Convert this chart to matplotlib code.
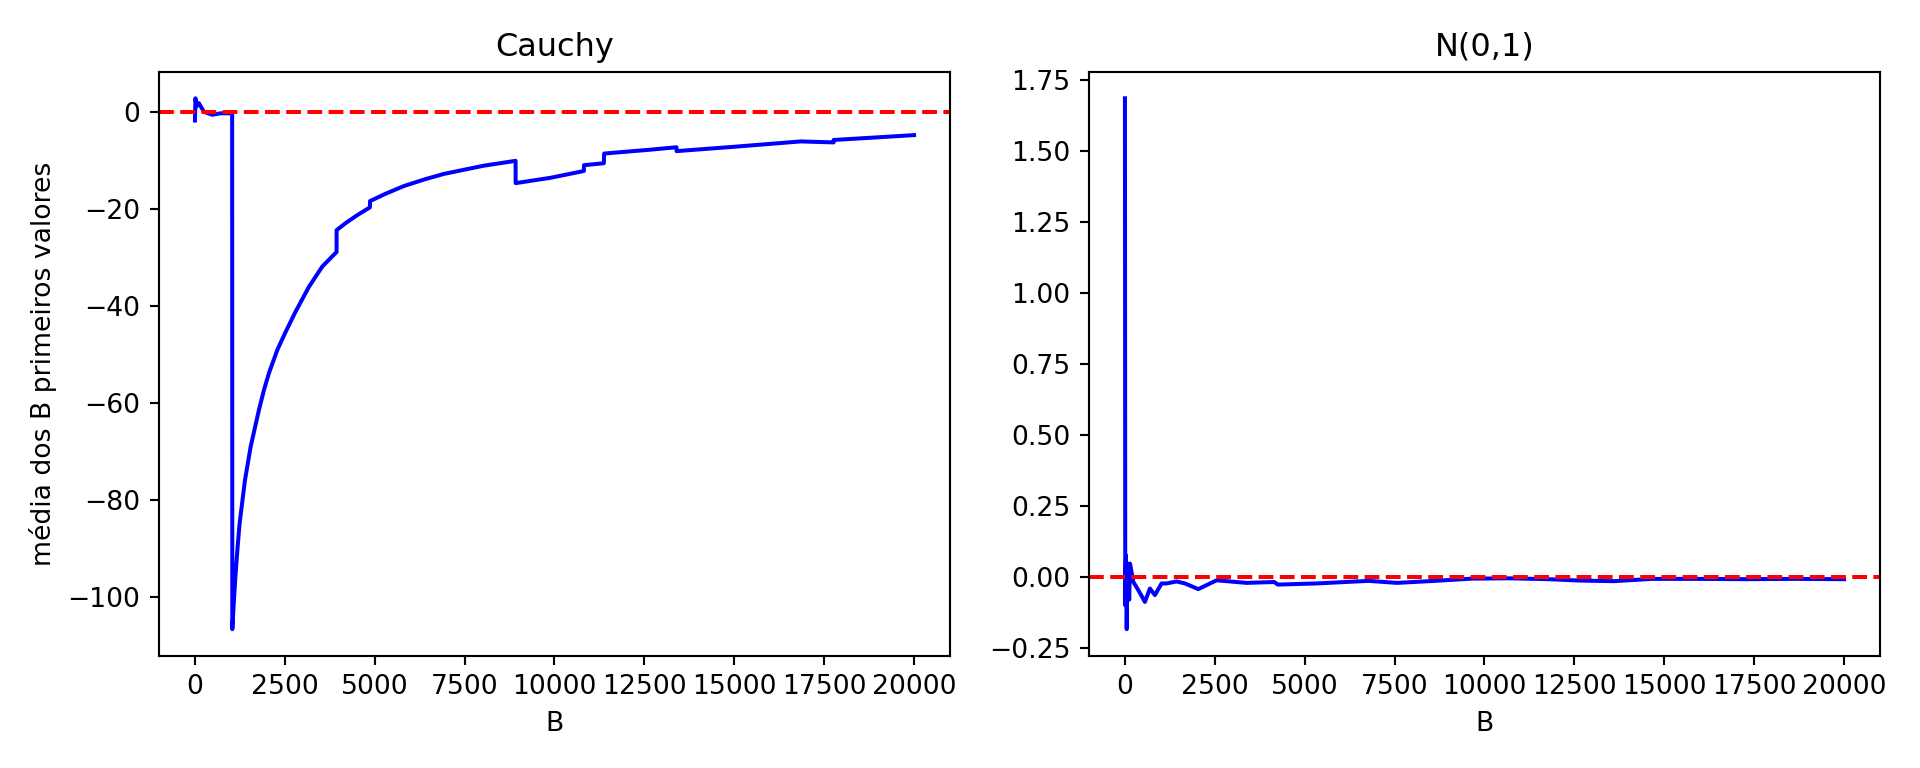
import matplotlib
matplotlib.use("Agg")
import matplotlib.pyplot as plt

# running mean of the first B Cauchy draws
b_cauchy = [1, 15, 40, 110, 250, 480, 715, 1035, 1040, 1085, 1132, 1188, 1243,
            1391, 1549, 1780, 1919, 2058, 2292, 2522, 2800, 3170, 3543, 3940,
            3940, 4200, 4516, 4867, 4870, 5300, 5812, 6400, 6924, 8036, 8918,
            8920, 9891, 10817, 10820, 11373, 11380, 12672, 13393, 13395, 15000,
            16843, 17764, 17766, 20000]
mean_cauchy = [-1.7, 2.9, 1.2, 1.9, 0.1, -0.5, -0.2, -0.2, -106.6, -100.6, -95.1,
               -89.6, -84.8, -75.9, -69.0, -61.4, -57.3, -53.8, -49.0, -45.3,
               -41.1, -36.0, -31.8, -28.8, -24.3, -22.8, -21.2, -19.6, -18.3,
               -16.8, -15.2, -13.8, -12.7, -11.0, -10.0, -14.6, -13.5, -12.1,
               -10.9, -10.5, -8.5, -7.7, -7.2, -8.0, -7.1, -6.0, -6.2, -5.7,
               -4.7]

# running mean of the first B N(0,1) draws
b_normal = [1, 10, 30, 50, 70, 120, 142, 236, 375, 556, 695, 834, 1019, 1158,
            1437, 1669, 2040, 2549, 3197, 3383, 4155, 4250, 5336, 6118, 6780,
            7565, 8615, 9666, 10715, 11764, 12680, 13598, 14656, 15962, 17277,
            18589, 20000]
mean_normal = [1.685, -0.10, 0.076, -0.184, 0.047, -0.08, 0.047, -0.018, -0.047,
               -0.088, -0.041, -0.064, -0.023, -0.023, -0.016, -0.023, -0.043,
               -0.012, -0.019, -0.021, -0.018, -0.027, -0.023, -0.018, -0.014,
               -0.021, -0.014, -0.006, -0.005, -0.008, -0.013, -0.015, -0.007,
               -0.007, -0.008, -0.007, -0.008]

fig, axes = plt.subplots(1, 2, figsize=(10, 4), dpi=192)
fig.subplots_adjust(left=159 / 1920, right=1880 / 1920, bottom=0.1462,
                    top=0.9066, wspace=0.1757)

axes[0].plot(b_cauchy, mean_cauchy, color='b')
axes[0].axhline(0, color='red', linestyle='--')
axes[0].set_title("Cauchy")
axes[0].set_xlabel("B")
axes[0].set_ylabel("média dos B primeiros valores")

axes[1].plot(b_normal, mean_normal, color='b')
axes[1].axhline(0, color='red', linestyle='--')
axes[1].set_title("N(0,1)")
axes[1].set_xlabel("B")

fig.savefig("out.png", dpi=192)
